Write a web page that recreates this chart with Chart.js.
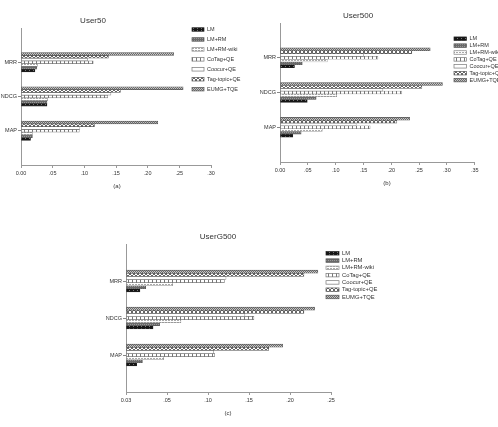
<!DOCTYPE html>
<html><head><meta charset="utf-8">
<script src="https://cdn.jsdelivr.net/npm/chart.js@4.4.0/dist/chart.umd.min.js"></script>
<style>
html,body{margin:0;padding:0;background:#fff;}
#wrap{position:relative;width:498px;height:427px;overflow:hidden;font-family:'Liberation Sans',Arial,sans-serif;}
canvas{position:absolute;left:0;top:0;}
.t{position:absolute;transform:translate(-50%,-50%);white-space:nowrap;color:#333;}
</style></head><body>
<div id="wrap">
<canvas id="ca"></canvas>
<canvas id="cb"></canvas>
<canvas id="cc"></canvas>
<div class="t" style="left:93px;top:20px;font-size:8px">User50</div>
<div class="t" style="left:117px;top:186px;font-size:6px">(a)</div>
<div class="t" style="left:358px;top:15px;font-size:8px">User500</div>
<div class="t" style="left:387px;top:183px;font-size:6px">(b)</div>
<div class="t" style="left:218px;top:236px;font-size:8px">UserG500</div>
<div class="t" style="left:228px;top:413px;font-size:6px">(c)</div>
</div>
<script>
// ---- data ----
const categories = ['MRR', 'NDCG', 'MAP'];
const seriesNames = ['LM', 'LM+RM', 'LM+RM-wiki', 'CoTag+QE', 'Coocur+QE', 'Tag-topic+QE', 'EUMG+TQE'];
// values in series order (LM ... EUMG+TQE)
const user50MRR  = [0.022, 0.025, 0.026, 0.114, 0.105, 0.138, 0.241];
const user50NDCG = [0.041, 0.041, 0.042, 0.137, 0.142, 0.157, 0.256];
const user50MAP  = [0.015, 0.018, 0.018, 0.092, 0.093, 0.116, 0.216];
const user500MRR  = [0.026, 0.040, 0.085, 0.176, 0.150, 0.237, 0.270];
const user500NDCG = [0.049, 0.065, 0.102, 0.219, 0.185, 0.255, 0.292];
const user500MAP  = [0.023, 0.038, 0.076, 0.162, 0.137, 0.210, 0.233];
const userG500MRR  = [0.017, 0.024, 0.057, 0.120, 0.122, 0.217, 0.234];
const userG500NDCG = [0.033, 0.041, 0.067, 0.156, 0.145, 0.217, 0.230];
const userG500MAP  = [0.013, 0.020, 0.046, 0.108, 0.107, 0.174, 0.191];
const ticksA = ['0.00', '.05', '.10', '.15', '.20', '.25', '.30'];
const ticksB = ['0.00', '.05', '.10', '.15', '.20', '.25', '.30', '.35'];
const ticksC = ['0.03', '.05', '.10', '.15', '.20', '.25'];

// ---- patterns ----
function makePattern(w, h, bg, fg, pts) {
  const c = document.createElement('canvas'); c.width = w; c.height = h;
  const x = c.getContext('2d'); x.fillStyle = bg; x.fillRect(0, 0, w, h);
  x.fillStyle = fg; pts.forEach(p => x.fillRect(p[0], p[1], 1, 1));
  return x.createPattern(c, 'repeat');
}
const fills = {
  'LM': makePattern(4, 2, '#151515', '#777', [[1, 0]]),
  'LM+RM': makePattern(2, 2, '#6a6a6a', '#9a9a9a', [[0, 0]]),
  'LM+RM-wiki': makePattern(3, 2, '#fff', '#aaa', [[0, 0], [1, 0]]),
  'CoTag+QE': makePattern(4, 1, '#fff', '#777', [[0, 0]]),
  'Coocur+QE': '#ffffff',
  'Tag-topic+QE': makePattern(4, 4, '#fff', '#666', [[0,0],[3,0],[1,1],[2,1],[1,2],[2,2],[0,3],[3,3]]),
  'EUMG+TQE': makePattern(2, 2, '#c4c4c4', '#6a6a6a', [[0, 0], [1, 1]])
};
const borders = {
  'LM': '#222', 'LM+RM': '#555', 'LM+RM-wiki': '#888', 'CoTag+QE': '#777',
  'Coocur+QE': '#777', 'Tag-topic+QE': '#555', 'EUMG+TQE': '#555'
};

const legendPlugin = {
  id: 'customLegend',
  afterDraw(chart, args, o) {
    const ctx = chart.ctx; ctx.save();
    ctx.font = o.font + 'px "Liberation Sans", Arial, sans-serif';
    ctx.textBaseline = 'middle'; ctx.fillStyle = '#333';
    seriesNames.forEach((n, i) => {
      const y = o.y + i * o.dy;
      ctx.fillStyle = fills[n];
      ctx.fillRect(o.x, y - o.bh / 2, o.bw, o.bh);
      ctx.strokeStyle = borders[n]; ctx.lineWidth = 0.7;
      ctx.strokeRect(o.x, y - o.bh / 2, o.bw, o.bh);
      ctx.fillStyle = '#333';
      ctx.fillText(n, o.x + o.bw + 3, y);
    });
    ctx.restore();
  }
};

function build(id, rows, tickLabels, xmax, yWidth, pad, thick, leg) {
  const order = seriesNames.map((n, i) => i).reverse(); // top bar = EUMG+TQE
  const datasets = order.map(i => ({
    label: seriesNames[i],
    data: [null, rows[0][i], rows[1][i], rows[2][i], null],
    backgroundColor: fills[seriesNames[i]],
    borderColor: borders[seriesNames[i]],
    borderWidth: 0.6,
    borderSkipped: false,
    barThickness: thick
  }));
  const el = document.getElementById(id);
  el.style.width = '498px'; el.style.height = '427px';
  new Chart(el, {
    type: 'bar',
    data: { labels: ['', ...categories, ''], datasets },
    plugins: [legendPlugin],
    options: {
      indexAxis: 'y', responsive: false, animation: false, devicePixelRatio: 1,
      layout: { padding: pad },
      plugins: { legend: { display: false }, title: { display: false }, tooltip: { enabled: false },
        customLegend: leg },
      scales: {
        y: {
          type: 'category', offset: false,
          grid: { display: true, offset: false, drawOnChartArea: false, drawTicks: true, tickLength: 3,
            color: c => (c.index === 0 || c.index === 4) ? 'rgba(0,0,0,0)' : '#888' },
          border: { display: true, color: '#999', width: 1 },
          ticks: { color: '#333', font: { size: 5.5, family: '"Liberation Sans", Arial, sans-serif' }, padding: 1, autoSkip: false },
          afterFit: s => { s.width = yWidth; }
        },
        x: {
          type: 'linear', min: 0, max: xmax,
          grid: { display: true, drawOnChartArea: false, drawTicks: true, tickLength: 3, color: '#999' },
          border: { display: true, color: '#999', width: 1 },
          ticks: { stepSize: 0.05, color: '#333', padding: 2,
            font: { size: 5.5, family: '"Liberation Sans", Arial, sans-serif' },
            callback: (v, i) => tickLabels[i] },
          afterFit: s => { s.height = 20; }
        }
      }
    }
  });
}

build('ca', [user50MRR, user50NDCG, user50MAP], ticksA, 0.30, 21,
  { left: 0, top: 28, right: 287, bottom: 242 }, 2.75,
  { x: 192, y: 29.5, dy: 9.95, bw: 12, bh: 3.5, font: 5.5 });
build('cb', [user500MRR, user500NDCG, user500MAP], ticksB, 0.35, 30,
  { left: 250, top: 23, right: 23.3, bottom: 245 }, 2.8,
  { x: 454, y: 38.7, dy: 6.9, bw: 12.5, bh: 3.5, font: 5.5 });
build('cc', [userG500MRR, userG500NDCG, userG500MAP], ticksC, 0.25, 26,
  { left: 100, top: 244, right: 167, bottom: 15 }, 3.1,
  { x: 326, y: 253.3, dy: 7.28, bw: 13, bh: 3.5, font: 5.8 });
</script>
</body></html>
